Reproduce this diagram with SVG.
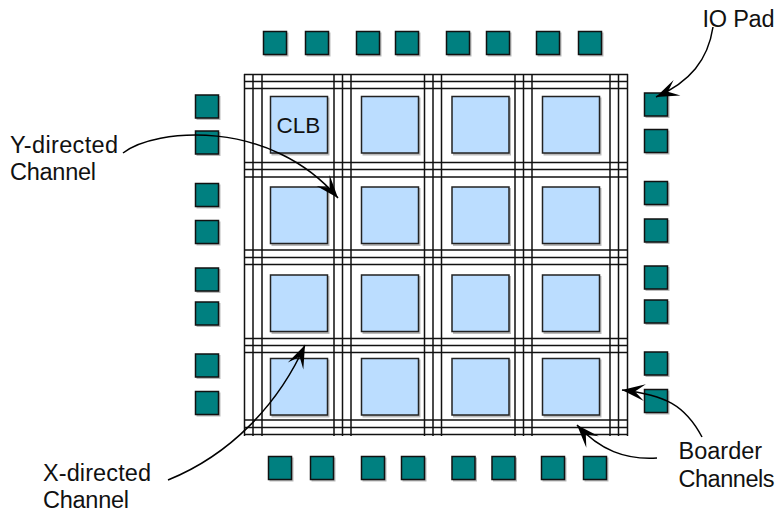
<svg xmlns="http://www.w3.org/2000/svg" width="778" height="512" viewBox="0 0 778 512">
<style>
.w{stroke:#111;stroke-width:1.5;fill:none}
.clb{fill:#bbddff;stroke:#222;stroke-width:1.5}
.pad{fill:#008080;stroke:#111;stroke-width:1.5}
.shadow{fill:#bbb;stroke:none}
.a{fill:none;stroke:#000;stroke-width:1.5;marker-end:url(#h)}
text{font-family:"Liberation Sans",Arial,sans-serif;font-size:23.5px;fill:#111}
</style>
<defs>
<marker id="h" markerUnits="userSpaceOnUse" markerWidth="26" markerHeight="22" viewBox="0 0 26 22" refX="24" refY="11" orient="auto">
<path d="M24,11 L1,2.500 L11,11 L1,19.500 Z" fill="#000"/>
</marker>
<symbol id="p" overflow="visible"><rect class="shadow" x="1" y="1" width="24" height="24"/><rect class="pad" width="23" height="23"/></symbol>
<symbol id="c" overflow="visible"><rect class="shadow" x="1" y="1" width="58" height="58"/><rect class="clb" width="57" height="56.5"/></symbol>
</defs>
<g id="clbs">
<use id="clb-1-1" href="#c" x="270.5" y="96.5"/><use id="clb-1-2" href="#c" x="361.5" y="96.5"/><use id="clb-1-3" href="#c" x="452" y="96.5"/><use id="clb-1-4" href="#c" x="542.5" y="96.5"/>
<use id="clb-2-1" href="#c" x="270.5" y="187"/><use id="clb-2-2" href="#c" x="361.5" y="187"/><use id="clb-2-3" href="#c" x="452" y="187"/><use id="clb-2-4" href="#c" x="542.5" y="187"/>
<use id="clb-3-1" href="#c" x="270.5" y="275"/><use id="clb-3-2" href="#c" x="361.5" y="275"/><use id="clb-3-3" href="#c" x="452" y="275"/><use id="clb-3-4" href="#c" x="542.5" y="275"/>
<use id="clb-4-1" href="#c" x="270.5" y="358.5"/><use id="clb-4-2" href="#c" x="361.5" y="358.5"/><use id="clb-4-3" href="#c" x="452" y="358.5"/><use id="clb-4-4" href="#c" x="542.5" y="358.5"/>
</g>
<g id="channels">
<path class="w" d="M244.500,74V436M253,74V436M262,74V436M334,74V436M342.500,74V436M351,74V436M424.500,74V436M433,74V436M441.500,74V436M515,74V436M523.500,74V436M532,74V436M610,74V436M618.500,74V436M627.500,74V436"/>
<path class="w" d="M244,74.500H628M244,81.500H628M244,88.500H628M244,162.500H628M244,169.500H628M244,177H628M244,250H628M244,257.500H628M244,264.500H628M244,338.500H628M244,345.500H628M244,352.500H628M244,420H628M244,427.500H628M244,434.500H628"/>
</g>
<g id="pads">
<use id="pad-t1" href="#p" x="263.500" y="31.500"/><use id="pad-t2" href="#p" x="305.500" y="31.500"/><use id="pad-t3" href="#p" x="356.500" y="31.500"/><use id="pad-t4" href="#p" x="395.500" y="31.500"/><use id="pad-t5" href="#p" x="446.500" y="31.500"/><use id="pad-t6" href="#p" x="486.500" y="31.500"/><use id="pad-t7" href="#p" x="536.500" y="31.500"/><use id="pad-t8" href="#p" x="578.500" y="31.500"/>
<use id="pad-b1" href="#p" x="268.500" y="456.500"/><use id="pad-b2" href="#p" x="310.500" y="456.500"/><use id="pad-b3" href="#p" x="361.500" y="456.500"/><use id="pad-b4" href="#p" x="401.500" y="456.500"/><use id="pad-b5" href="#p" x="452" y="456.500"/><use id="pad-b6" href="#p" x="492" y="456.500"/><use id="pad-b7" href="#p" x="541.500" y="456.500"/><use id="pad-b8" href="#p" x="583.500" y="456.500"/>
<use id="pad-l1" href="#p" x="195.500" y="95"/><use id="pad-l2" href="#p" x="195.500" y="131"/><use id="pad-l3" href="#p" x="195.500" y="183.500"/><use id="pad-l4" href="#p" x="195.500" y="220.500"/><use id="pad-l5" href="#p" x="195.500" y="268"/><use id="pad-l6" href="#p" x="195.500" y="302"/><use id="pad-l7" href="#p" x="195.500" y="354"/><use id="pad-l8" href="#p" x="195.500" y="391.500"/>
<use id="pad-r1" href="#p" x="644.500" y="93"/><use id="pad-r2" href="#p" x="644.500" y="129.500"/><use id="pad-r3" href="#p" x="644.500" y="181.500"/><use id="pad-r4" href="#p" x="644.500" y="219"/><use id="pad-r5" href="#p" x="644.500" y="266"/><use id="pad-r6" href="#p" x="644.500" y="300"/><use id="pad-r7" href="#p" x="644.500" y="352"/><use id="pad-r8" href="#p" x="644.500" y="389.500"/>
</g>
<g id="connectors">
<path class="a" d="M123,153C155,128 270,118 338,198"/>
<path class="a" d="M713,27C708,60 690,82 656,97"/>
<path class="a" d="M168,480C230,455 278,405 305,345"/>
<path class="a" d="M702,437C685,405 665,395 622,390"/>
<path class="a" d="M657,458C625,460 600,450 577,425"/>
</g>
<g id="labels">
<text id="clb-label" x="276.500" y="132.500" style="font-size:22.5px">CLB</text>
<text id="io-pad-label" x="702.500" y="26.500" textLength="72">IO Pad</text>
<text id="y-label"><tspan x="10" y="152.500" textLength="108">Y-directed</tspan><tspan x="10" y="180" textLength="86">Channel</tspan></text>
<text id="x-label"><tspan x="43" y="481" textLength="108">X-directed</tspan><tspan x="43" y="507.500" textLength="86">Channel</tspan></text>
<text id="border-label"><tspan x="678.500" y="459">Boarder</tspan><tspan x="678.500" y="486.500" textLength="96">Channels</tspan></text>
</g>
</svg>
